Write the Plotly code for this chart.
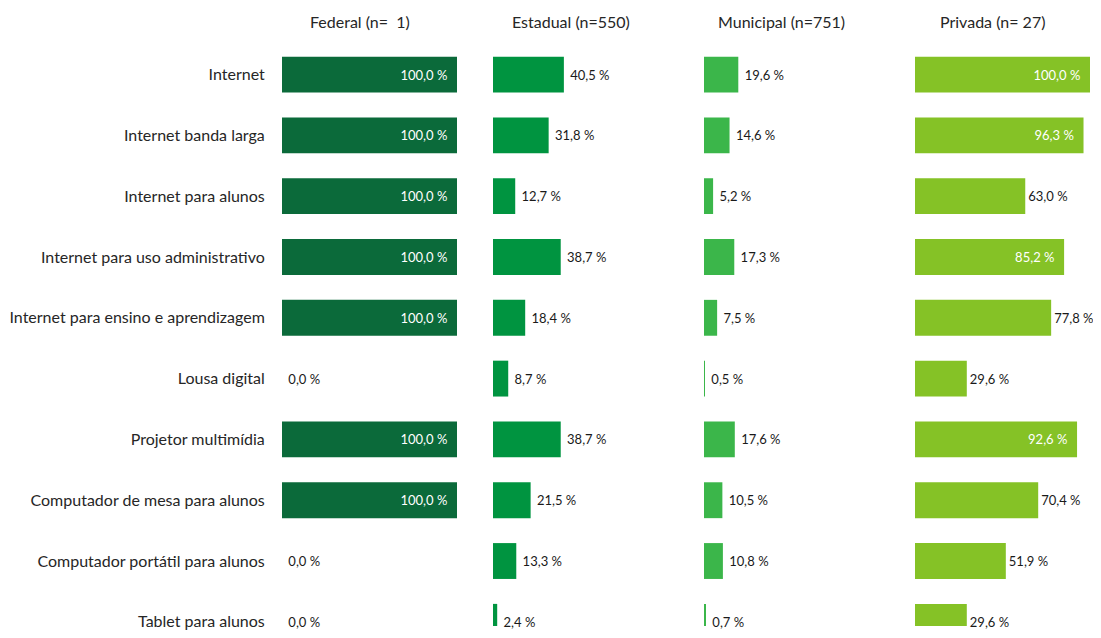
import plotly.graph_objects as go

categories = [
    "Internet",
    "Internet banda larga",
    "Internet para alunos",
    "Internet para uso administrativo",
    "Internet para ensino e aprendizagem",
    "Lousa digital",
    "Projetor multimídia",
    "Computador de mesa para alunos",
    "Computador portátil para alunos",
    "Tablet para alunos",
]

panel_titles = ["Federal (n=  1)", "Estadual (n=550)", "Municipal (n=751)", "Privada (n= 27)"]

federal = [100.0, 100.0, 100.0, 100.0, 100.0, 0.0, 100.0, 100.0, 0.0, 0.0]
estadual = [40.5, 31.8, 12.7, 38.7, 18.4, 8.7, 38.7, 21.5, 13.3, 2.4]
municipal = [19.6, 14.6, 5.2, 17.3, 7.5, 0.5, 17.6, 10.5, 10.8, 0.7]
privada = [100.0, 96.3, 63.0, 85.2, 77.8, 29.6, 92.6, 70.4, 51.9, 29.6]

series = [federal, estadual, municipal, privada]
colors = ["#0B6A3A", "#009440", "#3BB64A", "#85C226"]

# page body adds an 8px margin: positions below are in figure pixels (screen - 8)
W, H = 1093, 622
FONT = "Lato"


def fmt(v):
    return f"{v:.1f}".replace(".", ",") + " %"


fig = go.Figure()

panel_left = [274, 485, 696, 907]
panel_width = 175
plot_top = 36.4
unit = 61.2  # pixels per category row
rows_visible = (H - plot_top) / unit

for i, (vals, color) in enumerate(zip(series, colors)):
    inside = [v >= 80 for v in vals]
    # the last panel sits at the right edge, so its outside labels get no extra gap
    lead = "" if i == 3 else "\u00a0"
    texts = [fmt(v) + "\u00a0\u00a0" if ins else lead + fmt(v) for v, ins in zip(vals, inside)]
    axis = "" if i == 0 else str(i + 1)
    fig.add_trace(go.Bar(
        x=vals,
        y=categories,
        orientation="h",
        marker=dict(color=color, line=dict(width=0)),
        text=texts,
        textposition=["inside" if ins else "outside" for ins in inside],
        insidetextanchor="end",
        insidetextfont=dict(color="white", size=13, family=FONT),
        outsidetextfont=dict(color="#1a1a1a", size=13, family=FONT),
        constraintext="none",
        cliponaxis=False,
        xaxis="x" + axis,
        yaxis="y" + axis,
        showlegend=False,
        hovertemplate="%{y}: %{x:.1f}%<extra></extra>",
    ))

    x0 = panel_left[i] / W
    x1 = (panel_left[i] + panel_width) / W
    fig.layout["xaxis" + axis] = dict(
        domain=[x0, x1], range=[0, 100],
        visible=False, fixedrange=True, anchor="y" + axis,
    )
    fig.layout["yaxis" + axis] = dict(
        domain=[0, 1 - plot_top / H],
        range=[rows_visible - 0.5, -0.5],
        type="category",
        categoryarray=categories,
        anchor="x" + axis,
        showticklabels=(i == 0),
        ticks="outside" if i == 0 else "",
        ticklen=13,
        tickcolor="rgba(0,0,0,0)",
        tickfont=dict(size=16, color="#262626", family=FONT),
        showgrid=False,
        zeroline=False,
        showline=False,
        fixedrange=True,
    )

    fig.add_annotation(
        text=panel_titles[i],
        x=(panel_left[i] + panel_width / 2 - 10) / W,
        y=1 - 14 / H,
        xref="paper", yref="paper",
        xanchor="center", yanchor="middle",
        showarrow=False,
        font=dict(size=16, color="#262626", family=FONT),
    )

fig.update_layout(
    width=W,
    height=H,
    margin=dict(l=0, r=0, t=0, b=0),
    bargap=0.41,
    plot_bgcolor="white",
    paper_bgcolor="white",
    font=dict(family=FONT),
)

fig.write_html("out.html")
